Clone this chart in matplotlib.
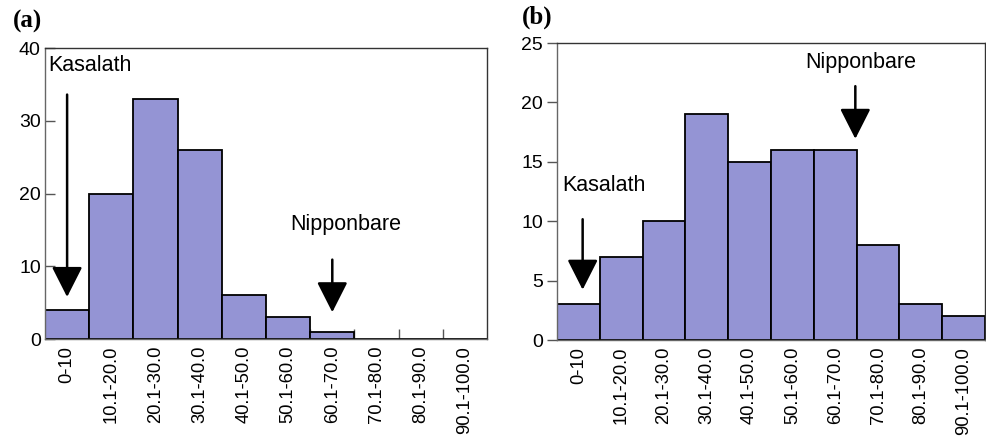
import matplotlib
matplotlib.use("Agg")
import matplotlib.pyplot as plt
import numpy as np

plt.rcParams['font.family'] = ['Liberation Sans', 'DejaVu Sans']

categories = ["0-10", "10.1-20.0", "20.1-30.0", "30.1-40.0", "40.1-50.0",
              "50.1-60.0", "60.1-70.0", "70.1-80.0", "80.1-90.0", "90.1-100.0"]
counts_a = [4, 20, 33, 26, 6, 3, 1, 0, 0, 0]
counts_b = [3, 7, 10, 19, 15, 16, 16, 8, 3, 2]

bar_color = "#9494d4"

fig = plt.figure(figsize=(9.87, 4.38), dpi=100)
ax_a = fig.add_axes([0.0456, 0.226, 0.4478, 0.664])
ax_b = fig.add_axes([0.5643, 0.2237, 0.4337, 0.6781])


def draw_panel(ax, counts, ymax, ystep, tickdir):
    x = np.arange(len(categories))
    ax.bar(x, counts, width=1.0, color=bar_color, edgecolor="black", linewidth=1.3, zorder=2)
    ax.set_xlim(-0.5, len(categories) - 0.5)
    ax.set_ylim(0, ymax)
    ax.set_yticks(np.arange(0, ymax + 1, ystep))
    ax.set_xticks(x)
    ax.set_xticklabels(categories, rotation=90, fontsize=13.2)
    ax.set_xticks(np.arange(0.5, len(categories) - 0.5, 1), minor=True)
    ax.tick_params(axis="x", which="major", length=0, pad=5)
    ax.tick_params(axis="x", which="minor", direction="in", length=7, width=1, color="#555555")
    ax.tick_params(axis="y", direction=tickdir, length=7, width=1, labelsize=14, pad=3,
                   color="#555555")
    for s in ax.spines.values():
        s.set_linewidth(1.0)
        s.set_color("#333333")
    ax.spines["left"].set_color("#666666")
    ax.spines["bottom"].set_color("#666666")


def arrow(ax, x, y_top, y_tip):
    ax.annotate("", xy=(x, y_tip), xytext=(x, y_top),
                arrowprops=dict(arrowstyle="-|>,head_length=0.75,head_width=0.38",
                                mutation_scale=25, lw=1.8, color="black"),
                zorder=3)


draw_panel(ax_a, counts_a, 40, 10, "in")
draw_panel(ax_b, counts_b, 25, 5, "out")

# panel (a)
ax_a.text(-0.43, 37.6, "Kasalath", fontsize=15.5, ha="left", va="center")
arrow(ax_a, 0, 34, 5.4)
ax_a.text(6.3, 15.7, "Nipponbare", fontsize=15.5, ha="center", va="center")
arrow(ax_a, 6.0, 11.3, 3.3)

# panel (b)
ax_b.text(-0.38, 13.0, "Kasalath", fontsize=15.5, ha="left", va="center")
arrow(ax_b, 0.1, 10.4, 4.0)
ax_b.text(6.6, 23.4, "Nipponbare", fontsize=15.5, ha="center", va="center")
arrow(ax_b, 6.47, 21.6, 16.7)

fig.text(0.013, 0.95, "(a)", fontsize=18, fontweight="bold",
         family=["Liberation Serif", "DejaVu Serif"], ha="left", va="center")
fig.text(0.529, 0.96, "(b)", fontsize=18, fontweight="bold",
         family=["Liberation Serif", "DejaVu Serif"], ha="left", va="center")

fig.savefig("out.png", dpi=100)
